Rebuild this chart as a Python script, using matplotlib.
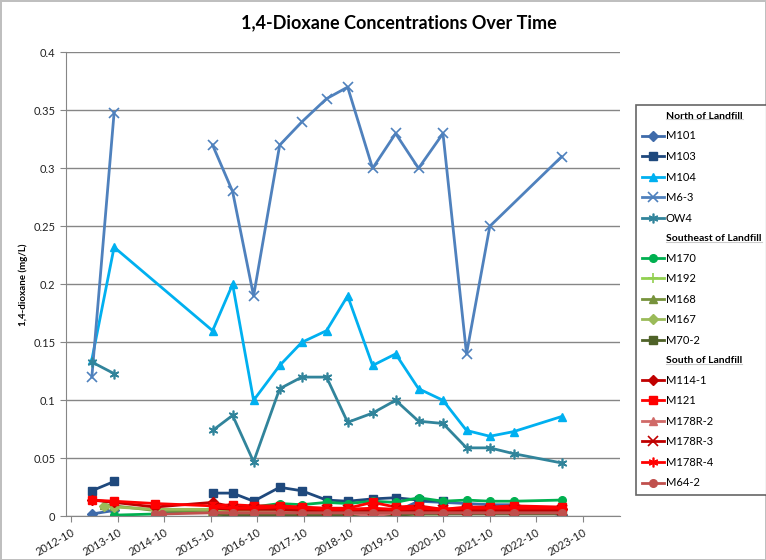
import numpy as np
import matplotlib
matplotlib.use("Agg")
import matplotlib.pyplot as plt
import matplotlib.dates as mdates
from matplotlib.lines import Line2D
from datetime import datetime

plt.rcParams['font.family'] = ['Lato', 'DejaVu Sans']

nan = np.nan
# sample dates (None in a series = not sampled, nan = gap in the line)
dates = ["2013-03-10", "2013-06-12", "2013-09-01", "2014-07-20", "2014-09-10",
         "2015-10-15", "2016-03-20", "2016-09-01", "2017-03-25", "2017-09-15",
         "2018-03-28", "2018-09-10", "2019-03-25", "2019-09-22", "2020-03-20",
         "2020-09-28", "2021-04-01", "2021-10-01", "2022-04-06", "2023-04-18"]

# North of Landfill
m101 = [0.002, None, 0.005, nan, None, 0.004, 0.004, 0.004, 0.004, 0.004,
        0.004, 0.004, 0.004, 0.004, 0.013, 0.012, 0.011, 0.010, 0.010, 0.001]
m103 = [0.022, None, 0.030, nan, nan, 0.020, 0.020, 0.013, 0.025, 0.022,
        0.014, 0.013, 0.015, 0.016, 0.014, 0.013, None, None, None, None]
m104 = [0.135, None, 0.232, None, None, 0.16, 0.20, 0.10, 0.13, 0.15,
        0.16, 0.19, 0.13, 0.14, 0.11, 0.10, 0.074, 0.069, 0.073, 0.086]
m6_3 = [0.12, None, 0.348, nan, nan, 0.32, 0.28, 0.19, 0.32, 0.34,
        0.36, 0.37, 0.30, 0.33, 0.30, 0.33, 0.14, 0.25, None, 0.31]
ow4 = [0.133, None, 0.123, nan, nan, 0.074, 0.087, 0.047, 0.11, 0.12,
       0.12, 0.081, 0.089, 0.10, 0.082, 0.080, 0.059, 0.059, 0.054, 0.046]

# Southeast of Landfill
m170 = [None, None, 0.001, 0.002, None, None, 0.008, 0.008, 0.011, 0.010,
        0.012, 0.011, 0.013, 0.012, 0.016, 0.013, 0.014, 0.013, 0.013, 0.014]
m192 = [None, None, None, None, None, 0.001, 0.0, 0.0, 0.001, 0.001,
        0.001, 0.001, 0.001, 0.001, 0.002, 0.002, 0.003, 0.003, 0.003, 0.003]
m168 = [None, 0.010, 0.009, 0.005, None, 0.005, 0.004, 0.003, 0.002, 0.002,
        0.003, 0.003, 0.003, 0.003, 0.004, 0.004, 0.004, 0.004, 0.004, 0.004]
m167 = [None, 0.009, 0.008, 0.006, None, 0.006, 0.005, 0.004, 0.004, 0.004,
        0.004, 0.004, 0.004, 0.004, 0.005, 0.005, 0.005, 0.006, 0.006, 0.006]
m70_2 = [None, None, None, None, None, 0.002, 0.001, 0.001, 0.001, 0.001,
         0.001, 0.001, 0.001, 0.001, 0.002, 0.002, 0.002, 0.002, 0.002, 0.002]

# South of Landfill
m114_1 = [0.014, None, 0.012, 0.008, None, 0.012, 0.008, 0.007, 0.007, 0.007,
          0.006, 0.006, 0.006, 0.006, 0.007, 0.006, 0.006, 0.006, 0.006, 0.006]
m121 = [0.014, None, 0.013, 0.011, None, 0.009, 0.010, 0.009, 0.009, 0.008,
        0.007, 0.007, 0.012, 0.008, 0.009, 0.006, 0.008, 0.008, 0.009, 0.008]
m178r_2 = [None, None, None, None, None, 0.003, 0.003, 0.003, 0.003, 0.003,
           0.003, 0.003, 0.0, 0.003, 0.003, 0.003, 0.003, 0.003, 0.003, 0.003]
m178r_3 = [None, None, None, None, None, 0.007, 0.006, 0.006, 0.006, 0.005,
           0.005, 0.005, 0.005, 0.005, 0.005, 0.005, 0.005, 0.005, 0.005, 0.005]
m178r_4 = [None, None, None, None, None, 0.008, 0.007, 0.007, 0.008, 0.007,
           0.006, 0.006, 0.007, 0.006, 0.007, 0.006, 0.007, 0.007, 0.007, 0.007]
m64_2 = [None, None, None, 0.002, 0.002, 0.003, 0.003, 0.003, 0.003, 0.003,
         0.003, 0.003, 0.003, 0.003, 0.003, 0.003, 0.003, 0.003, 0.003, 0.003]

groups = [
    ("North of Landfill", [
        ("M101", m101, "#3F6BAA", "D"),
        ("M103", m103, "#1F497D", "s"),
        ("M104", m104, "#00B0F0", "^"),
        ("M6-3", m6_3, "#4F81BD", "x"),
        ("OW4", ow4, "#31849B", (6, 2, 0)),
    ]),
    ("Southeast of Landfill", [
        ("M170", m170, "#00B050", "o"),
        ("M192", m192, "#92D050", "+"),
        ("M168", m168, "#77933C", "^"),
        ("M167", m167, "#9BBB59", "D"),
        ("M70-2", m70_2, "#4F6228", "s"),
    ]),
    ("South of Landfill", [
        ("M114-1", m114_1, "#C00000", "D"),
        ("M121", m121, "#FF0000", "s"),
        ("M178R-2", m178r_2, "#D06A68", "^"),
        ("M178R-3", m178r_3, "#C00000", "x"),
        ("M178R-4", m178r_4, "#FF0000", (6, 2, 0)),
        ("M64-2", m64_2, "#C0504D", "o"),
    ]),
]

x_all = [datetime.strptime(d, "%Y-%m-%d") for d in dates]

fig = plt.figure(figsize=(7.66, 5.60), dpi=100)
ax = fig.add_axes([66 / 766, 1 - 516.3 / 560, (620 - 66) / 766, (516.3 - 52.3) / 560])

handles, labels = [], []
for title, series in groups:
    handles.append(Line2D([], [], linestyle="none"))
    labels.append(title)
    for name, vals, color, mk in series:
        xs = [x for x, v in zip(x_all, vals) if v is not None]
        ys = [v for v in vals if v is not None]
        thin = mk in ("x", "+", (6, 2, 0))
        ln, = ax.plot(xs, ys, color=color, lw=2, marker=mk, ms=7 if thin else 5.5,
                      mec=color, mfc=color, mew=1.2 if thin else 1)
        handles.append(ln)
        labels.append(name)

ax.set_ylim(0, 0.4)
ax.set_yticks(np.arange(0, 0.41, 0.05))
ax.set_yticklabels(["0", "0.05", "0.1", "0.15", "0.2", "0.25", "0.3", "0.35", "0.4"])
ax.set_xlim(datetime(2012, 8, 19), datetime(2024, 7, 20))
ax.xaxis.set_major_locator(mdates.MonthLocator(bymonth=10, bymonthday=1))
ax.xaxis.set_major_formatter(mdates.DateFormatter("%Y-%m"))
plt.setp(ax.get_xticklabels(), rotation=30, ha="right", rotation_mode="anchor")
ax.tick_params(labelsize=8, labelcolor="#222222", length=4, width=0.8, color="#868686")
ax.grid(axis="y", color="#868686", lw=1)
ax.set_axisbelow(True)
for s in ("top", "right"):
    ax.spines[s].set_visible(False)
for s in ("left", "bottom"):
    ax.spines[s].set_color("#868686")
ax.set_ylabel("1,4-dioxane (mg/L)", fontsize=7, fontweight="bold", labelpad=4)

fig.text(399 / 766, 1 - 23 / 560, "1,4-Dioxane Concentrations Over Time",
         fontsize=13, fontweight="bold", ha="center", va="center")

leg = fig.legend(handles, labels, loc="upper left",
                 bbox_to_anchor=(636 / 766, 1 - 105 / 560), fontsize=8,
                 handlelength=2.0, handletextpad=0.15, labelspacing=0.86,
                 borderpad=0.55, borderaxespad=0, frameon=True, fancybox=False)
leg.get_frame().set_edgecolor("#404040")
leg.get_frame().set_linewidth(1.2)
for t in leg.get_texts():
    if "Landfill" in t.get_text():
        t.set_fontweight("bold")
        t.set_fontsize(7.5)

# underline the group headers
fig.canvas.draw()
inv = fig.transFigure.inverted()
for t in leg.get_texts():
    if "Landfill" in t.get_text():
        bb = t.get_window_extent()
        (x0, y0), (x1, _) = inv.transform([(bb.x0, bb.y0 + 1.5), (bb.x1, bb.y0 + 1.5)])
        fig.add_artist(Line2D([x0, x1], [y0, y0], color="black", lw=0.8,
                              transform=fig.transFigure))

fig.patch.set_edgecolor("#BFBFBF")
fig.patch.set_linewidth(2)
fig.savefig("out.png", dpi=100, edgecolor=fig.get_edgecolor())
